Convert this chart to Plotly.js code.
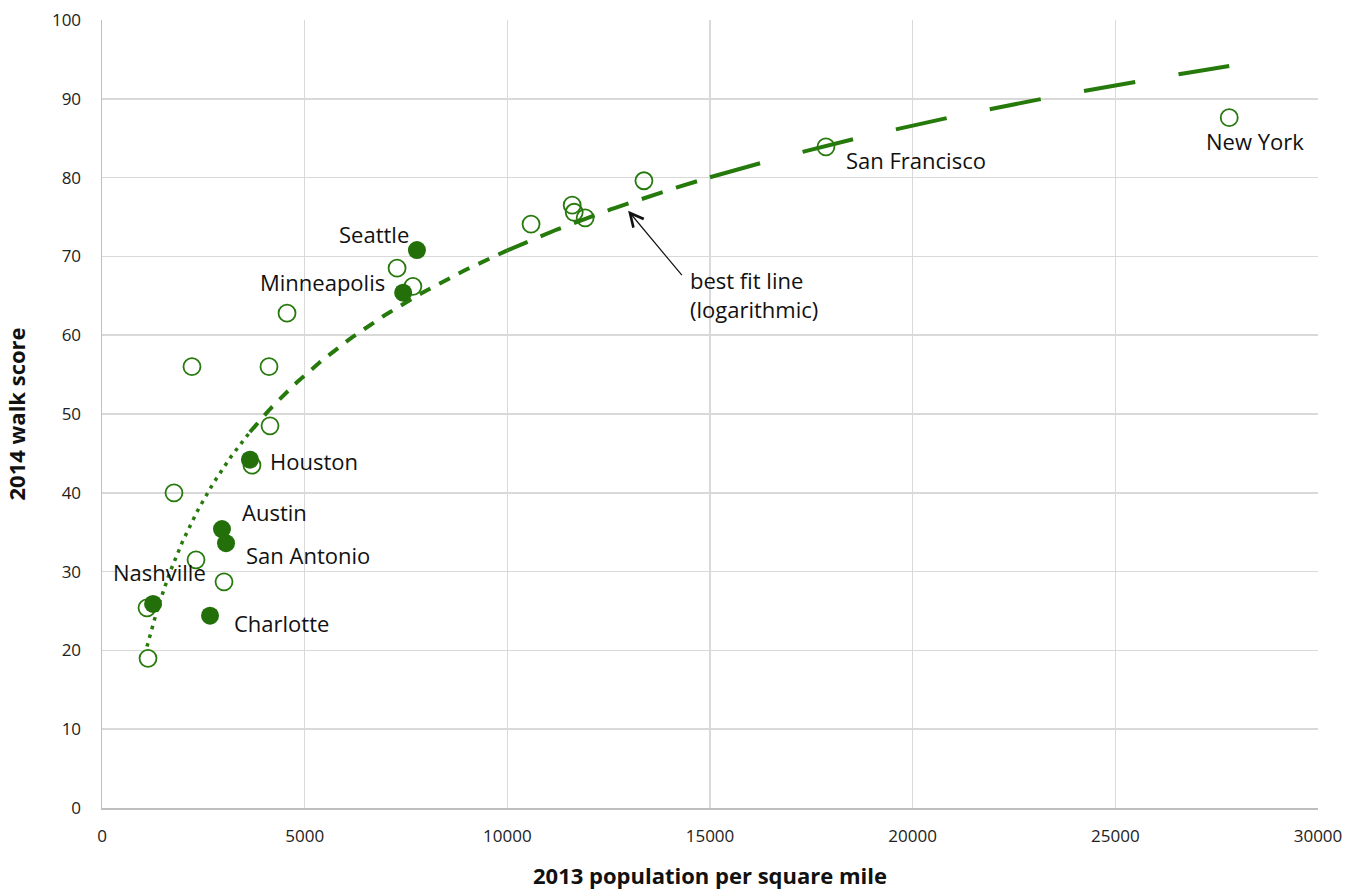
<!DOCTYPE html>
<html>
<head>
<meta charset="utf-8">
<script src="https://cdn.plot.ly/plotly-3.0.1.min.js"></script>
<style>
  html, body { margin: 0; padding: 0; background: #fff; }
  #chart { width: 1361px; height: 890px; }
</style>
</head>
<body>
<div id="chart"></div>
<script>
// Other cities (open circles): 2013 population per square mile, 2014 walk score
const otherDensity = [1135, 1110, 1776, 2220, 2319, 3010, 3700, 4145, 4120, 4565, 7280, 7670, 10585, 11600, 11650, 11920, 13370, 17860, 27810];
const otherWalk    = [19.0, 25.4, 40.0, 56.0, 31.5, 28.7, 43.5, 48.5, 56.0, 62.8, 68.5, 66.2, 74.1, 76.5, 75.6, 74.9, 79.6, 83.9, 87.6];

// Highlighted cities (filled circles)
const hlCities  = ["Seattle", "Minneapolis", "Houston", "Austin", "San Antonio", "Charlotte", "Nashville"];
const hlDensity = [7770, 7430, 3650, 2960, 3060, 2665, 1260];
const hlWalk    = [70.8, 65.4, 44.2, 35.4, 33.6, 24.4, 25.9];

// Labelled open-circle cities
const openLabelCities  = ["San Francisco", "New York"];
const openLabelDensity = [17860, 27810];
const openLabelWalk    = [83.9, 87.6];

// Densities where the best-fit line changes dash style
const fitBreaks = [3650, 10000, 15000];

const xTicks = [0, 5000, 10000, 15000, 20000, 25000, 30000];
const yTicks = [0, 10, 20, 30, 40, 50, 60, 70, 80, 90, 100];

const GREEN = '#267a0c';
const FONT = '"Open Sans", Lato, sans-serif';

// Logarithmic least-squares fit over all points
const allX = otherDensity.concat(hlDensity);
const allY = otherWalk.concat(hlWalk);
const lx = allX.map(Math.log);
const n = lx.length;
const mL = lx.reduce((a, b) => a + b, 0) / n;
const mY = allY.reduce((a, b) => a + b, 0) / n;
let sxy = 0, sxx = 0;
for (let i = 0; i < n; i++) { sxy += (lx[i] - mL) * (allY[i] - mY); sxx += (lx[i] - mL) ** 2; }
const slope = sxy / sxx, icpt = mY - slope * mL;
const xmin = Math.min(...allX), xmax = Math.max(...allX);

function fitSeg(a, b) {
  const xs = [], ys = [];
  const steps = 80;
  for (let i = 0; i <= steps; i++) {
    const x = Math.exp(Math.log(a) + (Math.log(b) - Math.log(a)) * i / steps);
    xs.push(x); ys.push(slope * Math.log(x) + icpt);
  }
  return { x: xs, y: ys };
}
const bounds = [xmin].concat(fitBreaks).concat([xmax]);
const dashes = ['3.5px,5.5px', '12px,10px', '22px,14px', '52px,44px'];
const widths = [3.5, 4, 4, 4];
const fitTraces = [];
for (let i = 0; i < bounds.length - 1; i++) {
  const s = fitSeg(bounds[i], bounds[i + 1]);
  fitTraces.push({
    x: s.x, y: s.y, mode: 'lines', type: 'scatter', hoverinfo: 'skip',
    line: { color: GREEN, width: widths[i], dash: dashes[i] },
    showlegend: false
  });
}

const traces = fitTraces.concat([
  {
    x: otherDensity, y: otherWalk, mode: 'markers', type: 'scatter',
    marker: { symbol: 'circle-open', size: 17, color: GREEN, line: { width: 1.8, color: GREEN } },
    showlegend: false
  },
  {
    x: hlDensity, y: hlWalk, mode: 'markers', type: 'scatter', text: hlCities,
    marker: { symbol: 'circle', size: 18, color: '#236f0a' },
    showlegend: false
  }
]);

const labelFont = { family: FONT, size: 22, color: '#111' };
// label offsets in pixels relative to each point: [xshift, yshift, xanchor]
const hlLabelPos = {
  "Seattle":     [-6, 16, 'right'],
  "Minneapolis": [-16, 11, 'right'],
  "Houston":     [18, -1, 'left'],
  "Austin":      [18, 17, 'left'],
  "San Antonio": [18, -12, 'left'],
  "Charlotte":   [22, -7, 'left'],
  "Nashville":   [6, 32, 'center']
};
const annotations = [];
hlCities.forEach((c, i) => {
  const p = hlLabelPos[c];
  annotations.push({
    x: hlDensity[i], y: hlWalk[i], text: c, showarrow: false,
    xanchor: p[2], yanchor: 'middle', xshift: p[0], yshift: p[1], font: labelFont
  });
});
annotations.push({
  x: openLabelDensity[0], y: openLabelWalk[0], text: openLabelCities[0], showarrow: false,
  xanchor: 'left', yanchor: 'middle', xshift: 18, yshift: -13, font: labelFont
});
annotations.push({
  x: openLabelDensity[1], y: openLabelWalk[1], text: openLabelCities[1], showarrow: false,
  xanchor: 'center', yanchor: 'middle', xshift: 26, yshift: -23, font: labelFont
});
// best fit arrow
annotations.push({
  x: 12980, y: 75.8, ax: 55, ay: 66, text: '', showarrow: true,
  arrowhead: 5, arrowsize: 2.2, arrowwidth: 1.2, arrowcolor: '#111', standoff: 0
});
annotations.push({
  x: 12980, y: 75.8, text: 'best fit line<br>(logarithmic)', showarrow: false,
  xanchor: 'left', yanchor: 'top', xshift: 60, yshift: -52, align: 'left',
  font: labelFont
});

const layout = {
  width: 1361, height: 890,
  margin: { l: 102, r: 43, t: 20, b: 82 },
  paper_bgcolor: '#fff', plot_bgcolor: '#fff',
  font: { family: FONT, size: 17, color: '#222' },
  xaxis: {
    range: [0, 30000], tickvals: xTicks, ticktext: xTicks.map(String),
    showgrid: true, gridcolor: '#d9d9d9', gridwidth: 1.5,
    showline: true, linecolor: '#bfbfbf', linewidth: 1.5,
    zeroline: false, ticks: '', ticklabelstandoff: 12,
    title: { text: '<b>2013 population per square mile</b>', font: { family: FONT, size: 22, color: '#111' }, standoff: 22 }
  },
  yaxis: {
    range: [0, 100], tickvals: yTicks, ticktext: yTicks.map(String),
    showgrid: true, gridcolor: '#d9d9d9', gridwidth: 1.5,
    showline: true, linecolor: '#bfbfbf', linewidth: 1.5,
    zeroline: false, ticks: '', ticklabelstandoff: 16,
    title: { text: '<b>2014 walk score</b>', font: { family: FONT, size: 22, color: '#111' }, standoff: 20 }
  },
  annotations: annotations,
  showlegend: false
};

Plotly.newPlot('chart', traces, layout, { displayModeBar: false, staticPlot: true });
</script>
</body>
</html>
